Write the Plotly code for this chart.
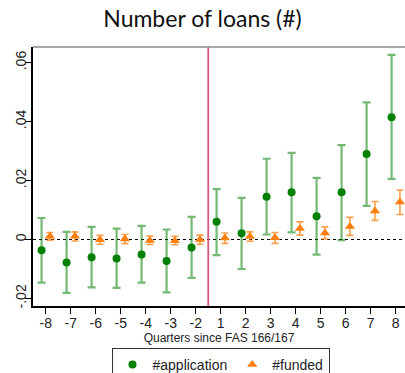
import plotly.graph_objects as go

# Event-time quarters relative to FAS 166/167 (quarter -1 is the omitted base)
quarters = ["-8", "-7", "-6", "-5", "-4", "-3", "-2", "1", "2", "3", "4", "5", "6", "7", "8"]

# #application: point estimates and 95% confidence bounds
app_coef = [-0.0036, -0.0078, -0.0060, -0.0064, -0.0051, -0.0073, -0.0027,
            0.0060, 0.0021, 0.0145, 0.0160, 0.0079, 0.0160, 0.0290, 0.0415]
app_lo = [-0.0146, -0.0181, -0.0162, -0.0164, -0.0146, -0.0179, -0.0130,
          -0.0053, -0.0100, 0.0017, 0.0024, -0.0051, -0.0002, 0.0114, 0.0206]
app_hi = [0.0073, 0.0026, 0.0043, 0.0037, 0.0046, 0.0034, 0.0077,
          0.0171, 0.0141, 0.0274, 0.0294, 0.0209, 0.0320, 0.0465, 0.0626]

# #funded: point estimates and 95% confidence bounds
fund_coef = [0.0011, 0.0011, -0.0001, 0.0002, -0.0003, -0.0004, 0.0000,
             0.0005, 0.0010, 0.0006, 0.0037, 0.0022, 0.0044, 0.0097, 0.0127]
fund_lo = [-0.0002, -0.0005, -0.0016, -0.0014, -0.0017, -0.0018, -0.0016,
           -0.0013, -0.0006, -0.0013, 0.0015, 0.0002, 0.0014, 0.0065, 0.0085]
fund_hi = [0.0024, 0.0026, 0.0014, 0.0017, 0.0012, 0.0011, 0.0015,
           0.0022, 0.0026, 0.0024, 0.0060, 0.0043, 0.0075, 0.0129, 0.0168]

y_ticks = [-0.02, 0.0, 0.02, 0.04, 0.06]
y_tick_text = ["-.02", "0", ".02", ".04", ".06"]

pos = list(range(len(quarters)))
offset = 0.167
treat_pos = 6.5  # between quarter -2 and quarter 1

GREEN = "#008000"
ORANGE = "#ff7f0e"

fig = go.Figure()

fig.add_trace(go.Scatter(
    x=[p - offset for p in pos], y=app_coef, mode="markers", name="#application",
    marker=dict(symbol="circle", size=8, color=GREEN),
    error_y=dict(type="data", symmetric=False,
                 array=[h - c for h, c in zip(app_hi, app_coef)],
                 arrayminus=[c - l for c, l in zip(app_coef, app_lo)],
                 color="rgba(0,128,0,0.55)", thickness=2.2, width=4),
))

fig.add_trace(go.Scatter(
    x=[p + offset for p in pos], y=fund_coef, mode="markers", name="#funded",
    marker=dict(symbol="triangle-up", size=9, color=ORANGE),
    error_y=dict(type="data", symmetric=False,
                 array=[h - c for h, c in zip(fund_hi, fund_coef)],
                 arrayminus=[c - l for c, l in zip(fund_coef, fund_lo)],
                 color="rgba(255,127,14,0.75)", thickness=1.6, width=3.5),
))

shapes = [
    # zero reference line
    dict(type="line", xref="paper", yref="y", x0=0, x1=1, y0=0, y1=0,
         line=dict(color="black", width=1.2, dash="3px,3px"), layer="below"),
    # policy date
    dict(type="line", xref="x", yref="paper", x0=treat_pos, x1=treat_pos, y0=0, y1=1,
         line=dict(color="#d6577f", width=1.8), layer="below"),
    # top frame line
    dict(type="line", xref="paper", yref="paper", x0=0, x1=1, y0=1, y1=1,
         line=dict(color="#8a8a8a", width=1.5)),
]

fig.update_layout(
    width=405, height=373,
    margin=dict(l=33, r=0, t=47, b=67, autoexpand=False),
    paper_bgcolor="white", plot_bgcolor="white",
    title=dict(text="Number of loans (#)", x=0.5, xanchor="center",
               y=0.949, yanchor="middle",
               font=dict(family="Lato", size=23, color="#111111")),
    font=dict(family="Liberation Sans", color="#222222"),
    shapes=shapes,
    showlegend=True,
    legend=dict(orientation="h", xref="container", x=220.5 / 405, xanchor="center",
                yref="container", y=1 - 348 / 373, yanchor="top",
                bordercolor="#333333", borderwidth=1, bgcolor="white",
                font=dict(family="Liberation Sans", size=14, color="#222222"),
                itemwidth=30, tracegroupgap=0),
    xaxis=dict(range=[-0.51, 14.37], tickmode="array", tickvals=pos, ticktext=quarters,
               automargin=False,
               showgrid=False, zeroline=False, showline=True, linecolor="black", linewidth=1.5,
               ticks="outside", ticklen=6, tickcolor="black", tickwidth=1.2,
               ticklabelstandoff=-3,
               tickfont=dict(size=14, color="#222222"),
               title=dict(text="Quarters since FAS 166/167", standoff=2,
                          font=dict(size=12, color="#222222"))),
    yaxis=dict(range=[-0.02255, 0.0653], tickmode="array", tickvals=y_ticks, ticktext=y_tick_text,
               automargin=False,
               showgrid=False, zeroline=False, showline=True, linecolor="black", linewidth=1.5,
               ticks="outside", ticklen=6, tickcolor="black", tickwidth=1.2, tickangle=-90,
               ticklabelstandoff=-6,
               tickfont=dict(size=14, color="#222222")),
)

fig.write_html("out.html")
